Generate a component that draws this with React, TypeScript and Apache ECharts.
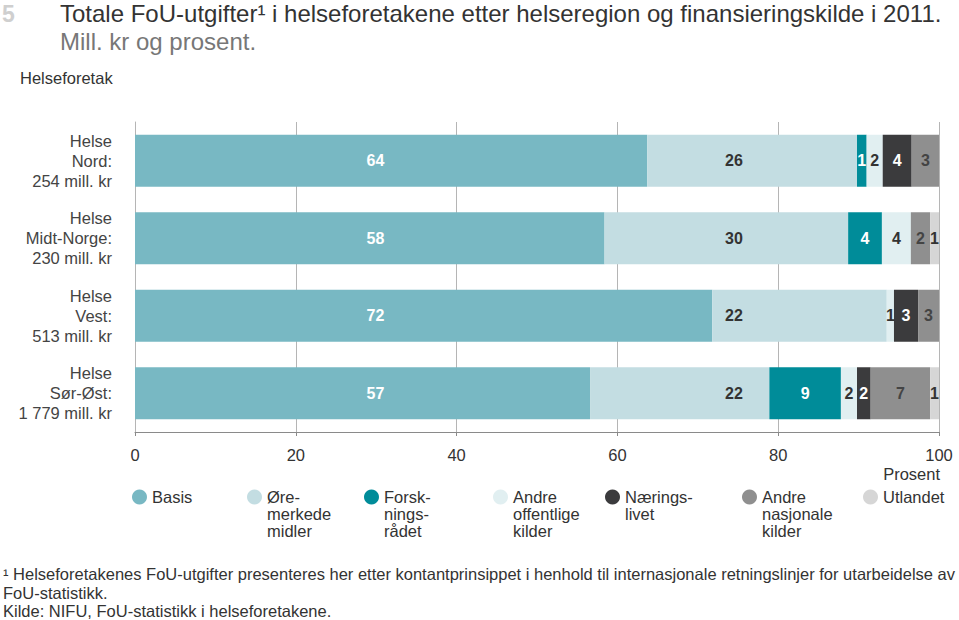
import React, { useEffect, useRef } from "react";
import * as echarts from "echarts";

const categories = [
  "Helse\nNord:\n254 mill. kr",
  "Helse\nMidt-Norge:\n230 mill. kr",
  "Helse\nVest:\n513 mill. kr",
  "Helse\nSør-Øst:\n1 779 mill. kr",
];

const seriesNames = [
  "Basis",
  "Øremerkede midler",
  "Forskningsrådet",
  "Andre offentlige kilder",
  "Næringslivet",
  "Andre nasjonale kilder",
  "Utlandet",
];

const legendLines = [
  ["Basis"],
  ["Øre-", "merkede", "midler"],
  ["Forsk-", "nings-", "rådet"],
  ["Andre", "offentlige", "kilder"],
  ["Nærings-", "livet"],
  ["Andre", "nasjonale", "kilder"],
  ["Utlandet"],
];

// percent shares per region (Nord, Midt-Norge, Vest, Sør-Øst)
const basis = [63.7, 58.4, 71.8, 56.6];
const oremerkede = [26.1, 30.3, 21.7, 22.3];
const forskningsradet = [1.2, 4.2, 0, 8.9];
const andreOffentlige = [2.0, 3.6, 0.9, 2.0];
const naeringslivet = [3.6, 0, 3.0, 1.7];
const andreNasjonale = [3.4, 2.4, 2.6, 7.4];
const utlandet = [0, 1.1, 0, 1.1];

const xTicks = [0, 20, 40, 60, 80, 100];

const colors = ["#78b8c3", "#c3dde2", "#008c99", "#e1eff1", "#3b3b3d", "#8f8f8f", "#d6d6d6"];
const labelColors = ["#ffffff", "#333333", "#ffffff", "#333333", "#ffffff", "#444444", "#333333"];

const FONT = "'Liberation Sans', Arial, sans-serif";

export default function App() {
  const ref = useRef<HTMLDivElement>(null);

  useEffect(() => {
    if (!ref.current) return;
    const chart = echarts.init(ref.current, undefined, { renderer: "svg" });

    const values = [basis, oremerkede, forskningsradet, andreOffentlige, naeringslivet, andreNasjonale, utlandet];

    const series = values.map((arr, si) => ({
      name: seriesNames[si],
      type: "bar",
      stack: "total",
      barWidth: 52,
      itemStyle: { color: colors[si] },
      label: {
        show: true,
        color: labelColors[si],
        fontFamily: FONT,
        fontWeight: "bold",
        fontSize: 16,
        formatter: (p: any) => (p.value > 0 ? String(Math.round(p.value)) : ""),
      },
      data: arr.map((v, i) => {
        if (si === 0) {
          return {
            value: v,
            label: { position: [`${(29.9 / v) * 100}%`, "50%"], align: "center", verticalAlign: "middle" },
          };
        }
        if (si === 1) {
          const start = basis[i];
          return {
            value: v,
            label: { position: [`${((74.5 - start) / v) * 100}%`, "50%"], align: "center", verticalAlign: "middle" },
          };
        }
        return { value: v, label: { position: "inside" } };
      }),
    }));

    const LH = 17;
    const legendLefts = [132, 247, 364, 493, 605, 742, 863];
    const iconTop = 489.5;
    const legends = seriesNames.map((name, i) => {
      const n = legendLines[i].length;
      const textH = (2 * n - 1) * LH;
      const top = iconTop - Math.max(0, (textH - 15) / 2);
      return {
        data: [name],
        left: legendLefts[i],
        top,
        padding: 0,
        icon: "circle",
        itemWidth: 15,
        itemHeight: 15,
        itemGap: 0,
        selectedMode: false,
        formatter: () => "\n".repeat(n - 1) + legendLines[i].join("\n"),
        textStyle: { fontFamily: FONT, fontSize: 16.5, color: "#333", lineHeight: LH },
      };
    });

    chart.setOption({
      animation: false,
      backgroundColor: "#ffffff",
      textStyle: { fontFamily: FONT },
      grid: { left: 135, right: 20, top: 122, bottom: 188 },
      xAxis: {
        type: "value",
        min: xTicks[0],
        max: xTicks[xTicks.length - 1],
        interval: 20,
        axisLine: { show: true, lineStyle: { color: "#8a8a8a", width: 1 } },
        axisTick: { show: true, length: 4, lineStyle: { color: "#8a8a8a" } },
        splitLine: { show: true, lineStyle: { color: "#b5b5b5", width: 1 } },
        axisLabel: { fontFamily: FONT, fontSize: 16.5, color: "#333", margin: 14 },
      },
      yAxis: {
        type: "category",
        inverse: true,
        data: categories,
        axisLine: { show: true, lineStyle: { color: "#b5b5b5" } },
        axisTick: { show: false },
        axisLabel: {
          fontFamily: FONT,
          fontSize: 16.5,
          color: "#444",
          lineHeight: 20,
          align: "right",
          margin: 23,
        },
      },
      legend: legends,
      series,
      graphic: [
        { type: "text", left: 2, top: 2, style: { text: "5", font: `bold 23px ${FONT}`, fill: "#cfcfcf" } },
        {
          type: "text",
          left: 60,
          top: 1,
          style: {
            text: "Totale FoU-utgifter¹ i helseforetakene etter helseregion og finansieringskilde i 2011.",
            font: `24px ${FONT}`,
            fill: "#333",
          },
        },
        { type: "text", left: 60, top: 29, style: { text: "Mill. kr og prosent.", font: `24px ${FONT}`, fill: "#777" } },
        { type: "text", left: 20, top: 69, style: { text: "Helseforetak", font: `16.5px ${FONT}`, fill: "#333" } },
        { type: "text", right: 19, top: 465, style: { text: "Prosent", font: `16.5px ${FONT}`, fill: "#333" } },
        {
          type: "text",
          left: 3,
          top: 565,
          style: {
            text:
              "¹ Helseforetakenes FoU-utgifter presenteres her etter kontantprinsippet i henhold til internasjonale retningslinjer for utarbeidelse av\nFoU-statistikk.\nKilde: NIFU, FoU-statistikk i helseforetakene.",
            font: `16.5px ${FONT}`,
            fill: "#333",
            lineHeight: 18.5,
          },
        },
      ],
    });

    return () => chart.dispose();
  }, []);

  return <div ref={ref} style={{ position: "fixed", left: 0, top: 0, width: 959, height: 620 }} />;
}
